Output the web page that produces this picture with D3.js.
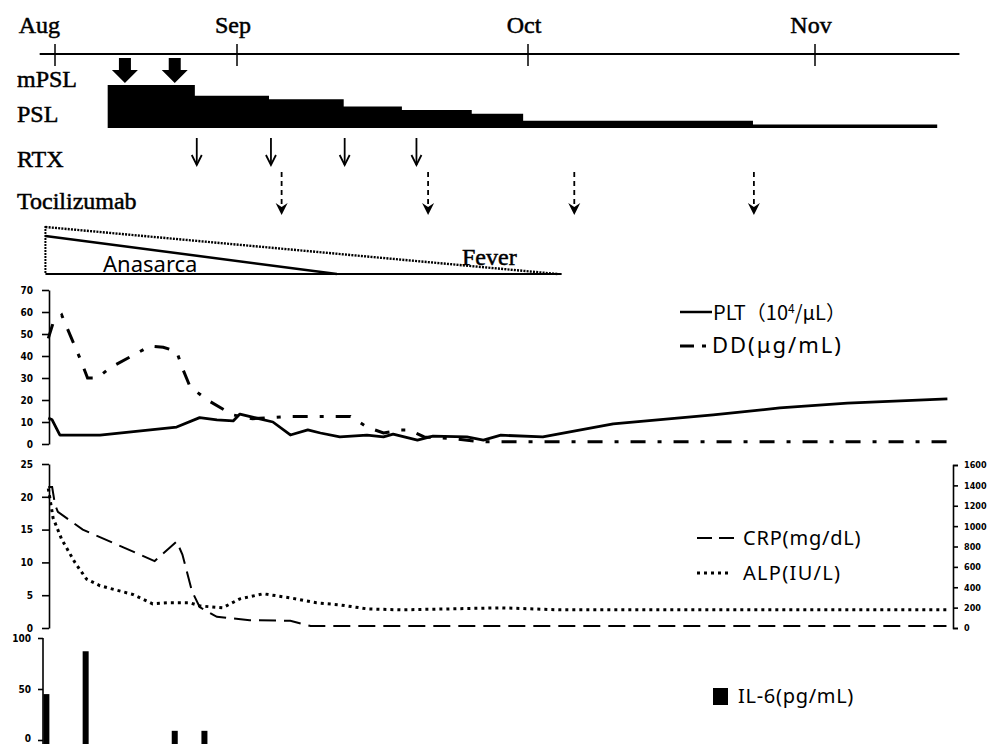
<!DOCTYPE html>
<html>
<head>
<meta charset="utf-8">
<script src="https://cdn.jsdelivr.net/npm/d3@7"></script>
<style>
body { margin: 0; background: #fff; }
svg { display: block; }
.serif { font-family: "Liberation Serif", "Times New Roman", serif; font-size: 24px; stroke: #000; stroke-width: 0.5px; }
.legend { font-family: "Noto Sans", sans-serif; font-size: 20px; }
.axis .tick text { font-family: "DejaVu Sans Condensed", "DejaVu Sans", sans-serif; font-size: 10px; font-weight: bold; fill: #000; }
.axis.right .tick text { font-size: 9px; }
.axis .domain, .axis .tick line { stroke: #000; stroke-width: 1.6; }
</style>
</head>
<body>
<div id="chart"></div>
<script>

// days are counted from the first tick of the time line ("Aug")
var months = ["Aug", "Sep", "Oct", "Nov"];
var monthDays = [0, 19, 49, 80];

// treatment
var mpslDays = [7.3, 12.5];
var pslDays = [5.5, 14.6, 22.3, 30, 36, 43.2, 48.5, 73.3, 93.2];
var pslDose = [60, 45, 40, 30, 25, 20, 10, 5, 5];
var rtxDays = [14.8, 22.5, 30.1, 37.5];
var tczDays = [23.6, 38.7, 54, 73.4];

// symptoms (triangles fading out)
var symptoms = ["Anasarca", "Fever"];
var symptomStart = -1;
var symptomEnd = [29.3, 52.2];

// PLT (10^4/uL) and D-dimer (ug/mL)
var pltDays = [-0.7, -0.3, 0.5, 4.7, 12.7, 15.1, 16.9, 18.6, 19.3, 22.7, 24.5, 26.3, 27.6, 29.6, 32.4, 34.1, 35.1, 37.6, 39.2, 42.7, 44.4, 46.2, 50.6, 58.2, 69, 76.2, 83.5, 94.3];
var pltVals = [11.8, 11, 4.1, 4, 7.7, 12, 11, 10.5, 13.6, 10, 4.1, 6.4, 5, 3.2, 4, 3.2, 4.5, 1.8, 3.6, 3.2, 1.8, 4, 3.2, 9.1, 13.2, 16.4, 18.6, 20.5];
var ddDays = [-0.7, -0.2, 0.7, 2.6, 3.4, 4.4, 5.7, 9.9, 11.3, 12.7, 13.3, 14.1, 15.9, 18.6, 20.6, 24.5, 30.7, 32.4, 34.1, 35.9, 36.7, 38.3, 41.1, 44.2, 94.3];
var ddVals = [48, 55, 58.6, 39, 30, 30, 34.5, 44.5, 44, 42, 34.5, 26, 20, 13.2, 11.5, 12.5, 12.5, 7.7, 5, 6.4, 6.4, 3.2, 2.5, 1, 1];

// CRP (mg/dL, left) and ALP (IU/L, right)
var crpDays = [-0.7, -0.3, 0, 0.3, 2.9, 10.4, 12.7, 13.3, 14.3, 15.1, 16.9, 20.3, 24.5, 26.6, 94.2];
var crpVals = [21.5, 21.5, 18.8, 17.7, 15, 10.2, 13.2, 11.2, 5.6, 3.2, 1.7, 1.2, 1.1, 0.3, 0.3];
var alpDays = [-0.7, -0.2, 0.7, 2.1, 3.3, 4.7, 8.1, 10.2, 11.7, 14.1, 15.1, 17.5, 19.3, 21.7, 24.5, 27.2, 29.6, 32.4, 35.9, 41.1, 46.2, 52.5, 94.2];
var alpVals = [1370, 1080, 870, 640, 480, 415, 330, 237, 247, 247, 217, 198, 286, 336, 296, 247, 227, 188, 178, 188, 198, 178, 178];

// IL-6 (pg/mL)
var il6Days = [-0.9, 3.2, 12.5, 15.6];
var il6Vals = [45, 87, 9, 9];

var pltTicks = [0, 10, 20, 30, 40, 50, 60, 70];
var crpTicks = [0, 5, 10, 15, 20, 25];
var alpTicks = [0, 200, 400, 600, 800, 1000, 1200, 1400, 1600];
var il6Ticks = [0, 50, 100];


var svg = d3.select("#chart").append("svg")
    .attr("width", 988)
    .attr("height", 744);

// the time line is not evenly spaced in the original drawing
var x = d3.scaleLinear().domain(monthDays).range([55, 237, 528, 815]);


///// time line

svg.append("line")
    .attr("x1", x(-1.6)).attr("x2", x(95.6))
    .attr("y1", 54).attr("y2", 54)
    .attr("stroke", "#000").attr("stroke-width", 2.2);

svg.selectAll(".mtick").data(monthDays).enter().append("line")
    .attr("x1", d => x(d)).attr("x2", d => x(d))
    .attr("y1", 44).attr("y2", 66)
    .attr("stroke", "#000").attr("stroke-width", 1.5);

svg.selectAll(".mlabel").data(months).enter().append("text")
    .attr("class", "serif")
    .attr("x", (d, i) => i == 0 ? x(monthDays[i]) + 5 : x(monthDays[i]) - 4)
    .attr("y", 33)
    .attr("text-anchor", (d, i) => i == 0 ? "end" : "middle")
    .text(d => d);

var rowLabels = ["mPSL", "PSL", "RTX", "Tocilizumab"];
var rowY = [87, 122, 167, 209];
svg.selectAll(".rlabel").data(rowLabels).enter().append("text")
    .attr("class", "serif")
    .attr("x", 17)
    .attr("y", (d, i) => rowY[i])
    .text(d => d);


///// treatment

// mPSL pulses
svg.selectAll(".mpsl").data(mpslDays).enter().append("path")
    .attr("d", "M-6,0 H6 V12 H13 L0,25 L-13,12 H-6 Z")
    .attr("transform", d => "translate(" + x(d) + ",58)")
    .attr("fill", "#000");

// PSL taper
var doseY = d3.scaleLinear().domain([0, 60]).range([128, 85]);
var psl = d3.area()
    .curve(d3.curveStepAfter)
    .x(d => x(d[0]))
    .y0(doseY(0))
    .y1(d => doseY(d[1]));
svg.append("path")
    .datum(d3.zip(pslDays, pslDose))
    .attr("d", psl)
    .attr("fill", "#000");

// RTX
var rtx = svg.selectAll(".rtx").data(rtxDays).enter().append("g")
    .attr("transform", d => "translate(" + x(d) + ",138)");
rtx.append("line")
    .attr("y1", 0).attr("y2", 27)
    .attr("stroke", "#000").attr("stroke-width", 1.8);
rtx.append("path")
    .attr("d", "M-5,17 L0,27 L5,17")
    .attr("fill", "none")
    .attr("stroke", "#000").attr("stroke-width", 1.8);

// Tocilizumab
var tcz = svg.selectAll(".tcz").data(tczDays).enter().append("g")
    .attr("transform", d => "translate(" + x(d) + ",172)");
tcz.append("line")
    .attr("y1", 0).attr("y2", 33)
    .attr("stroke", "#000").attr("stroke-width", 1.8)
    .attr("stroke-dasharray", "5,4");
tcz.append("path")
    .attr("d", "M-6,31 L0,43 L6,31 L0,35 Z")
    .attr("fill", "#000");


///// symptoms

var symBottom = 274;
svg.append("line")
    .attr("x1", x(symptomStart)).attr("x2", x(symptomEnd[1]) + 4)
    .attr("y1", symBottom).attr("y2", symBottom)
    .attr("stroke", "#000").attr("stroke-width", 2);
svg.append("line")
    .attr("x1", x(symptomStart)).attr("x2", x(symptomStart))
    .attr("y1", 226).attr("y2", symBottom)
    .attr("stroke", "#000").attr("stroke-width", 2)
    .attr("stroke-dasharray", "2,1");

// Anasarca: solid edge
svg.append("line")
    .attr("x1", x(symptomStart)).attr("y1", 236)
    .attr("x2", x(symptomEnd[0])).attr("y2", symBottom)
    .attr("stroke", "#000").attr("stroke-width", 2.5);
// Fever: dotted edge
svg.append("line")
    .attr("x1", x(symptomStart)).attr("y1", 227)
    .attr("x2", x(symptomEnd[1])).attr("y2", symBottom)
    .attr("stroke", "#000").attr("stroke-width", 2.4)
    .attr("stroke-dasharray", "2,1.2");

svg.append("text")
    .attr("class", "legend")
    .style("font-size", "22px")
    .attr("x", 103).attr("y", 272)
    .text(symptoms[0]);
svg.append("text")
    .attr("class", "serif")
    .attr("x", 462).attr("y", 265)
    .text(symptoms[1]);


///// PLT / DD panel

var y1 = d3.scaleLinear().domain([0, 70]).range([444, 290]);

svg.append("g")
    .attr("class", "axis")
    .attr("transform", "translate(49,0)")
    .call(d3.axisLeft(y1).tickValues(pltTicks).tickSize(7).tickPadding(9).tickSizeOuter(0));

var line1 = d3.line().x(d => x(d[0])).y(d => y1(d[1]));

svg.append("path")
    .datum(d3.zip(ddDays, ddVals))
    .attr("d", line1)
    .attr("fill", "none")
    .attr("stroke", "#000").attr("stroke-width", 3)
    .attr("stroke-dasharray", "15,12,4,12");

svg.append("path")
    .datum(d3.zip(pltDays, pltVals))
    .attr("d", line1)
    .attr("fill", "none")
    .attr("stroke", "#000").attr("stroke-width", 2.8)
    .attr("stroke-linejoin", "round");

// legend
svg.append("line")
    .attr("x1", 680).attr("x2", 712).attr("y1", 312).attr("y2", 312)
    .attr("stroke", "#000").attr("stroke-width", 2.5);
var pltLabel = svg.append("text")
    .attr("class", "legend")
    .style("font-family", "'Noto Sans CJK JP', 'Noto Sans', sans-serif")
    .attr("x", 713).attr("y", 320);
pltLabel.append("tspan").text("PLT（10");
pltLabel.append("tspan").attr("dy", -7).style("font-size", "12px").text("4");
pltLabel.append("tspan").attr("dy", 7).text("/μL）");

svg.append("line")
    .attr("x1", 680).attr("x2", 707).attr("y1", 346).attr("y2", 346)
    .attr("stroke", "#000").attr("stroke-width", 3)
    .attr("stroke-dasharray", "14,8,4,20");
svg.append("text")
    .attr("class", "legend")
    .style("font-size", "22px")
    .style("letter-spacing", "2px")
    .attr("x", 712).attr("y", 353)
    .text("DD(μg/mL)");


///// CRP / ALP panel

var y2 = d3.scaleLinear().domain([0, 25]).range([628, 464]);
var y2r = d3.scaleLinear().domain([0, 1600]).range([628, 465]);

svg.append("g")
    .attr("class", "axis")
    .attr("transform", "translate(49,0)")
    .call(d3.axisLeft(y2).tickValues(crpTicks).tickSize(7).tickPadding(9).tickSizeOuter(0));

svg.append("g")
    .attr("class", "axis right")
    .attr("transform", "translate(953,0)")
    .call(d3.axisRight(y2r).tickValues(alpTicks).tickFormat(d3.format("d"))
        .tickSize(5).tickPadding(6).tickSizeOuter(5));

svg.append("path")
    .datum(d3.zip(crpDays, crpVals))
    .attr("d", d3.line().x(d => x(d[0])).y(d => y2(d[1])))
    .attr("fill", "none")
    .attr("stroke", "#000").attr("stroke-width", 2)
    .attr("stroke-dasharray", "17,8");

svg.append("path")
    .datum(d3.zip(alpDays, alpVals))
    .attr("d", d3.line().x(d => x(d[0])).y(d => y2r(d[1])))
    .attr("fill", "none")
    .attr("stroke", "#000").attr("stroke-width", 3)
    .attr("stroke-dasharray", "3,4");

// legend
svg.append("line")
    .attr("x1", 697).attr("x2", 734).attr("y1", 538).attr("y2", 538)
    .attr("stroke", "#000").attr("stroke-width", 1.8)
    .attr("stroke-dasharray", "15,7");
svg.append("text")
    .attr("class", "legend")
    .style("letter-spacing", "0.8px")
    .attr("x", 743).attr("y", 545)
    .text("CRP(mg/dL)");

svg.append("line")
    .attr("x1", 697).attr("x2", 731).attr("y1", 573).attr("y2", 573)
    .attr("stroke", "#000").attr("stroke-width", 3)
    .attr("stroke-dasharray", "3,4");
svg.append("text")
    .attr("class", "legend")
    .style("letter-spacing", "1.3px")
    .attr("x", 743).attr("y", 580)
    .text("ALP(IU/L)");


///// IL-6 panel

// the baseline sits right at the bottom edge of the picture
var y3 = d3.scaleLinear().domain([0, 100]).range([740, 638]);

var il6Axis = svg.append("g")
    .attr("class", "axis")
    .attr("transform", "translate(43,0)")
    .call(d3.axisLeft(y3).tickValues(il6Ticks).tickSize(5).tickPadding(7).tickSizeOuter(0));
il6Axis.select(".domain").attr("d", "M-0,638V744");
// keep the zero label inside the picture
il6Axis.selectAll(".tick text").filter(d => d == 0).attr("dy", "0.1em");

svg.selectAll(".il6").data(d3.zip(il6Days, il6Vals)).enter().append("rect")
    .attr("x", d => x(d[0]) - 3)
    .attr("width", 6)
    .attr("y", d => y3(d[1]))
    .attr("height", d => 744 - y3(d[1]))
    .attr("fill", "#000");

svg.append("rect")
    .attr("x", 713).attr("y", 688).attr("width", 15).attr("height", 17)
    .attr("fill", "#000");
svg.append("text")
    .attr("class", "legend")
    .style("letter-spacing", "0.7px")
    .attr("x", 738).attr("y", 703)
    .text("IL-6(pg/mL)");

</script>
</body>
</html>
